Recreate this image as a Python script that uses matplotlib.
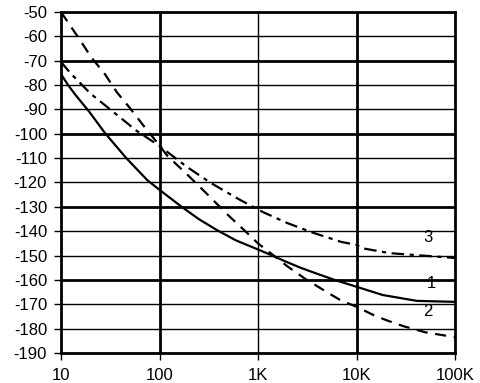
import numpy as np
import matplotlib.pyplot as plt

plt.rcParams['font.family'] = ['Liberation Sans', 'DejaVu Sans']
plt.rcParams['lines.scale_dashes'] = False

# кривая 1 (сплошная)
x1 = [10, 11.8, 14, 19.4, 27.7, 46, 75, 100, 168, 250, 381, 600, 1000, 1400,
      1800, 2700, 4000, 6000, 10000, 18500, 41000, 100000]
y1 = [-75.5, -80, -84, -91, -99.5, -110, -119, -123, -130, -135, -139.5,
      -143.8, -147.5, -150, -152, -155, -157.5, -160, -162.8, -166.2, -168.6,
      -169]

# кривая 2 (штриховая)
x2 = [10, 15.6, 20.2, 27.9, 37, 50, 68, 90, 120, 200, 300, 500, 700, 1000,
      1500, 2000, 3000, 5000, 7000, 10000, 15000, 20000, 30000, 50000, 100000]
y2 = [-50, -61.5, -68.5, -75.5, -83, -89.4, -96.4, -102.5, -109, -117.5,
      -124.5, -133.5, -139, -145, -150.5, -154.5, -159.5, -165, -168.5, -171,
      -174.5, -176.5, -179, -181.5, -183.5]

# кривая 3 (штрих-пунктир)
x3 = [10, 12.4, 19.8, 36.4, 58.2, 100, 190, 326, 641, 1130, 1970, 3600, 7000,
      10000, 11500, 21700, 47000, 100000]
y3 = [-70.5, -75, -83.4, -92, -98.7, -105, -113.6, -120, -126.9, -132.2,
      -136.6, -140.6, -144.4, -145.6, -147, -149, -150, -151]

xticks = [10, 100, 1000, 10000, 100000]
xlabels = ['10', '100', '1K', '10K', '100K']
yticks = list(range(-190, -49, 10))

fig = plt.figure(figsize=(4.81, 3.83), dpi=100)
ax = fig.add_axes([61 / 481, 30 / 383, 394 / 481, 341 / 383])

ax.set_xscale('log')
ax.set_xlim(10, 100000)
ax.set_ylim(-190, -50)

# сетка
for v in yticks:
    lw = 2.0 if v in (-70, -100, -130, -160) else 1.0
    ax.axhline(v, color='black', lw=lw, zorder=1)
for v, lw in [(100, 2.0), (1000, 1.0), (10000, 2.0)]:
    ax.axvline(v, color='black', lw=lw, zorder=1)

ax.plot(x1, y1, color='black', lw=1.6, zorder=3)
ax.plot(x2, y2, color='black', lw=1.6, linestyle=(0, (8, 5.5)), zorder=3)
ax.plot(x3, y3, color='black', lw=1.6, linestyle=(0, (9, 4, 3, 4)), zorder=3)

ax.text(53000, -145.5, '3', fontsize=12, ha='center', va='bottom')
ax.text(58000, -164.5, '1', fontsize=12, ha='center', va='bottom')
ax.text(53000, -176, '2', fontsize=12, ha='center', va='bottom')

ax.set_xticks(xticks)
ax.set_xticklabels(xlabels)
ax.minorticks_off()
ax.set_yticks(yticks)
ax.set_yticklabels(['-%d' % abs(v) for v in yticks])
ax.tick_params(axis='both', labelsize=12, length=5, width=1, color='black')
ax.tick_params(axis='x', pad=6)
ax.tick_params(axis='y', pad=5)

for s in ax.spines.values():
    s.set_linewidth(2.0)

fig.savefig('out.png', dpi=100)
